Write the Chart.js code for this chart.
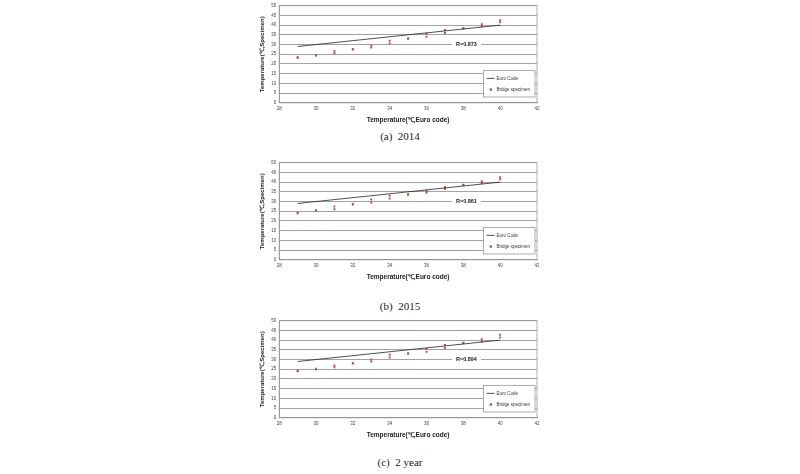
<!DOCTYPE html>
<html><head><meta charset="utf-8">
<script src="https://cdn.jsdelivr.net/npm/chart.js@4/dist/chart.umd.min.js"></script>
<style>
body{margin:0;background:#fff;width:800px;height:474px;position:relative;overflow:hidden}
.box{position:absolute;left:255px;width:290px}
.cap{position:absolute;left:0;width:800px;text-align:center;font-family:"Liberation Serif",serif;font-size:11px;color:#222;white-space:pre}
</style></head><body>
<div class="box" style="top:0;height:128px"><canvas id="c1"></canvas></div>
<div class="cap" style="top:130px">(a)  2014</div>
<div class="box" style="top:157px;height:128px"><canvas id="c2"></canvas></div>
<div class="cap" style="top:300px">(b)  2015</div>
<div class="box" style="top:315px;height:128px"><canvas id="c3"></canvas></div>
<div class="cap" style="top:456px">(c)  2 year</div>
<script>
'use strict';

var xs = [29, 30, 31, 32, 33, 34, 35, 36, 37, 38, 39, 40];
var euroX = [29, 40];
var euroY = [29, 40];

var low2014  = [23.2, 24.3, 25.5, 27.5, 28.5, 30.5, 33.0, 34.0, 36.0, 38.2, 39.5, 41.5];
var high2014 = [23.4, 24.5, 26.5, 27.7, 29.5, 32.0, 33.2, 35.5, 37.5, 38.4, 40.5, 42.5];
var low2015  = [24.0, 25.3, 26.0, 28.5, 29.5, 31.5, 33.5, 34.5, 36.5, 38.5, 39.5, 41.5];
var high2015 = [24.2, 25.5, 27.5, 28.7, 31.0, 33.0, 33.7, 35.5, 37.5, 38.7, 40.5, 42.5];
var low2y    = [24.0, 25.0, 26.0, 28.0, 29.0, 31.0, 33.0, 34.0, 36.0, 38.4, 39.3, 41.3];
var high2y   = [24.2, 25.2, 27.0, 28.2, 30.0, 32.5, 33.3, 35.5, 37.5, 38.6, 40.5, 42.8];

var RED = '#c0504d';

/* R label + legend box drawn on top of the plot */
var overlay = {
  id: 'overlay',
  afterDraw: function (chart) {
    var c = chart.ctx, sx = chart.scales.x, sy = chart.scales.y;
    var a = chart.chartArea;
    c.save();
    c.font = 'bold 5.5px "Liberation Sans"';
    var rx = sx.getPixelForValue(37.6), ry = sy.getPixelForValue(30);
    var tw = c.measureText(chart.options.rLabel).width;
    c.fillStyle = '#fff';
    c.fillRect(rx - 4, ry - 3, tw + 8, 6);
    c.fillStyle = '#222';
    c.textBaseline = 'middle';
    c.fillText(chart.options.rLabel, rx, ry);
    var lx = sx.getPixelForValue(39.1), ly = sy.getPixelForValue(16.7);
    var lw = a.right - 2 - lx, lh = sy.getPixelForValue(3) - ly;
    c.fillStyle = '#fff';
    c.fillRect(lx, ly, lw, lh);
    c.strokeStyle = '#999';
    c.lineWidth = 0.8;
    c.strokeRect(lx, ly, lw, lh);
    c.strokeStyle = '#222';
    c.beginPath();
    c.moveTo(lx + 3, ly + lh * 0.3); c.lineTo(lx + 11, ly + lh * 0.3); c.stroke();
    c.fillStyle = RED;
    c.fillRect(lx + 6, ly + lh * 0.72 - 1.2, 2.4, 2.4);
    c.fillStyle = '#333';
    c.font = '4.5px "Liberation Sans"';
    c.fillText('Euro Code', lx + 13, ly + lh * 0.3);
    c.fillText('Bridge specimen', lx + 13, ly + lh * 0.72);
    c.restore();
  }
};

function pts(arrX, arrY) {
  return arrX.map(function (x, i) { return { x: x, y: arrY[i] }; });
}

function makeChart(id, lows, highs, rLabel) {
  var scatter = pts(xs, lows).concat(pts(xs, highs));
  new Chart(document.getElementById(id), {
    type: 'scatter',
    data: {
      datasets: [
        { type: 'line', data: pts(euroX, euroY), borderColor: '#222', borderWidth: 0.8, pointRadius: 0, fill: false },
        { data: scatter, backgroundColor: RED, borderColor: RED, pointStyle: 'rect', pointRadius: 1.4, borderWidth: 0 }
      ]
    },
    options: {
      rLabel: rLabel,
      responsive: true,
      maintainAspectRatio: false,
      animation: false,
      layout: { padding: { right: 8, top: 4 } },
      plugins: { legend: { display: false }, tooltip: { enabled: false } },
      scales: {
        x: {
          min: 28, max: 42,
          grid: { display: false, drawTicks: false },
          border: { color: '#888', width: 0.8 },
          ticks: { stepSize: 2, color: '#444', font: { size: 4.5, family: 'Liberation Sans' }, padding: 3 },
          title: { display: true, text: 'Temperature(℃,Euro code)', color: '#222', font: { size: 6.5, weight: 'bold', family: 'Liberation Sans' }, padding: { top: 2 } }
        },
        y: {
          min: 0, max: 50,
          grid: { color: '#8a8a8a', lineWidth: 0.8, drawTicks: false },
          border: { color: '#888', width: 0.8 },
          ticks: { stepSize: 5, color: '#444', font: { size: 4.5, family: 'Liberation Sans' }, padding: 3 },
          title: { display: true, text: 'Temperature(℃,Specimen)', color: '#222', font: { size: 6, weight: 'bold', family: 'Liberation Sans' }, padding: { bottom: 2 } }
        }
      }
    },
    plugins: [overlay, {
      id: 'frame',
      afterDraw: function (chart) {
        var a = chart.chartArea, c = chart.ctx;
        c.save(); c.strokeStyle = '#999'; c.lineWidth = 0.8;
        c.strokeRect(a.left, a.top, a.right - a.left, a.bottom - a.top);
        c.restore();
      }
    }]
  });
}

makeChart('c1', low2014, high2014, 'R=0.873');
makeChart('c2', low2015, high2015, 'R=0.861');
makeChart('c3', low2y, high2y, 'R=0.894');
</script>
</body></html>
